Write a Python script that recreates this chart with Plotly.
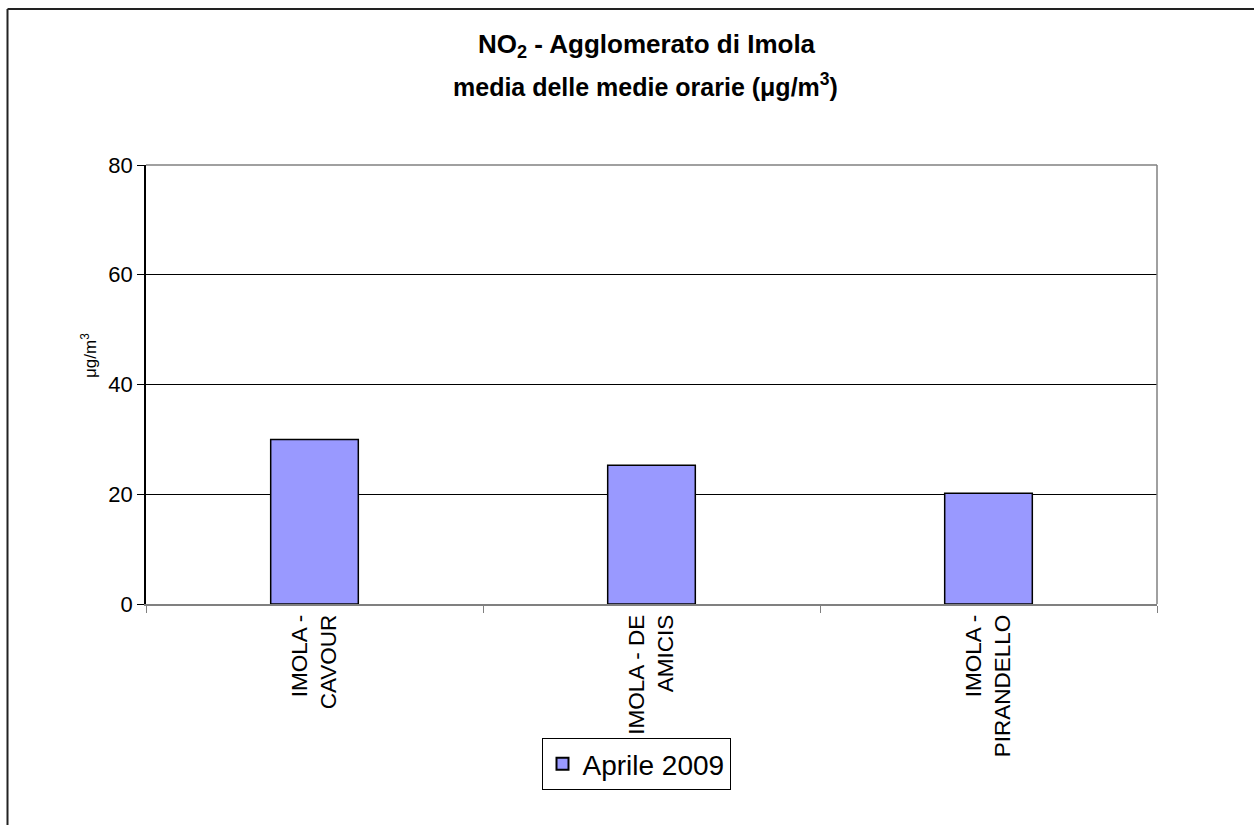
import plotly.graph_objects as go

categories = ["IMOLA -<br>CAVOUR", "IMOLA - DE<br>AMICIS", "IMOLA -<br>PIRANDELLO"]
values = [30.0, 25.3, 20.2]
series_name = "Aprile 2009"
y_ticks = [0, 20, 40, 60, 80]

W, H = 1254, 825
L, R, T, B = 146, 97, 165, 221
pw, ph = W - L - R, H - T - B

def px_x(x):
    return (x - L) / pw

def px_y(y):
    return (H - B - y) / ph

FONT = "Arial, Liberation Sans, sans-serif"

fig = go.Figure()
fig.add_trace(go.Bar(
    x=categories, y=values, name=series_name,
    marker=dict(color="#9999FF", line=dict(color="black", width=1.5)),
    showlegend=True,
))

fig.update_layout(
    width=W, height=H,
    margin=dict(l=L, r=R, t=T, b=B, autoexpand=False),
    paper_bgcolor="white", plot_bgcolor="white",
    bargap=0.74,
    font=dict(family=FONT, color="black"),
    showlegend=True,
    legend=dict(
        x=px_x(636), y=px_y(738), xanchor="center", yanchor="top",
        bordercolor="black", borderwidth=1, bgcolor="white",
        font=dict(size=28, family=FONT, color="black"),
        itemsizing="constant",
    ),
    xaxis=dict(
        type="category", tickangle=-90, tickson="boundaries",
        ticks="outside", ticklen=7, tickcolor="#808080",
        showline=True, linecolor="#808080", linewidth=1.5,
        tickfont=dict(size=22.5, family=FONT, color="black"),
        showgrid=False,
    ),
    yaxis=dict(
        range=[0, 80], tickvals=y_ticks, ticks="outside", ticklen=7,
        tickcolor="black", showline=True, linecolor="black", linewidth=1.5,
        gridcolor="black", gridwidth=1,
        tickfont=dict(size=22, family=FONT, color="black"),
        zeroline=False,
    ),
    annotations=[
        dict(text="<b>NO<sub>2</sub> - Agglomerato di Imola</b>", xref="paper", yref="paper",
             x=px_x(647), y=px_y(45), xanchor="center", yanchor="middle", showarrow=False,
             font=dict(size=26, family=FONT, color="black")),
        dict(text="<b>media delle medie orarie (μg/m<sup>3</sup>)</b>", xref="paper", yref="paper",
             x=px_x(645), y=px_y(85), xanchor="center", yanchor="middle", showarrow=False,
             font=dict(size=25, family=FONT, color="black")),
        dict(text="μg/m<sup>3</sup>", xref="paper", yref="paper",
             x=px_x(89), y=px_y(356), xanchor="center", yanchor="middle", showarrow=False,
             textangle=-90, font=dict(size=17, family=FONT, color="black")),
    ],
    shapes=[
        dict(type="line", xref="paper", yref="paper", x0=0, x1=1, y0=1, y1=1,
             line=dict(color="#808080", width=1.5)),
        dict(type="line", xref="paper", yref="paper", x0=1, x1=1, y0=0, y1=1,
             line=dict(color="#808080", width=1.5)),
        dict(type="line", xref="paper", yref="paper", x0=px_x(7.5), x1=px_x(7.5),
             y0=px_y(9), y1=px_y(830), line=dict(color="#222222", width=2)),
        dict(type="line", xref="paper", yref="paper", x0=px_x(7.5), x1=px_x(1260),
             y0=px_y(9), y1=px_y(9), line=dict(color="#222222", width=2)),
    ],
)

fig.write_html("out.html", config={"displayModeBar": False},
               post_script="document.body.style.margin='0';")
